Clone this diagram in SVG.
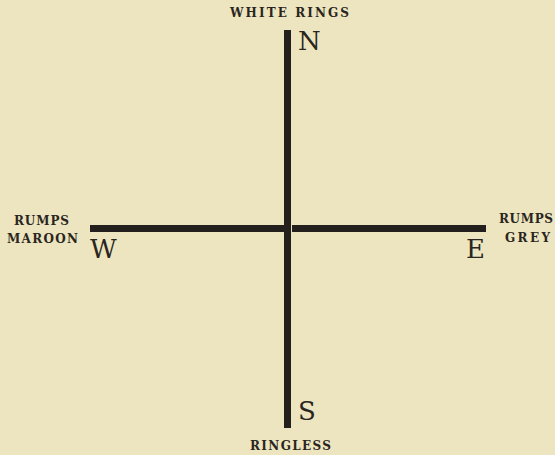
<svg xmlns="http://www.w3.org/2000/svg" width="555" height="455" viewBox="0 0 555 455">
<style>
.lab{font-family:"DejaVu Serif","Liberation Serif",serif;font-weight:bold;font-size:12px;fill:#2a2521}
.big{font-family:"DejaVu Serif","Liberation Serif",serif;font-size:26px;fill:#2a2521}
.bar{fill:#231f1c}
</style>
<rect width="555" height="455" fill="#ede5bf"/>
<g id="connectors">
<rect class="bar" x="284" y="30" width="7" height="398"/>
<rect class="bar" x="90" y="225" width="195" height="7"/>
<rect class="bar" x="292" y="225" width="194" height="7"/>
</g>
<g id="north"><text class="lab" x="230" y="17" textLength="119" lengthAdjust="spacing">WHITE RINGS</text><text class="big" x="298" y="50">N</text></g>
<g id="west"><text class="lab" x="14" y="225" textLength="55" lengthAdjust="spacing">RUMPS</text><text class="lab" x="7" y="243" textLength="71" lengthAdjust="spacing">MAROON</text><text class="big" x="90" y="258">W</text></g>
<g id="east"><text class="lab" x="499" y="223" textLength="54" lengthAdjust="spacing">RUMPS</text><text class="lab" x="505" y="242" textLength="45" lengthAdjust="spacing">GREY</text><text class="big" x="466" y="258">E</text></g>
<g id="south"><text class="big" x="298" y="420">S</text><text class="lab" x="250" y="450" textLength="81" lengthAdjust="spacing">RINGLESS</text></g>
</svg>
